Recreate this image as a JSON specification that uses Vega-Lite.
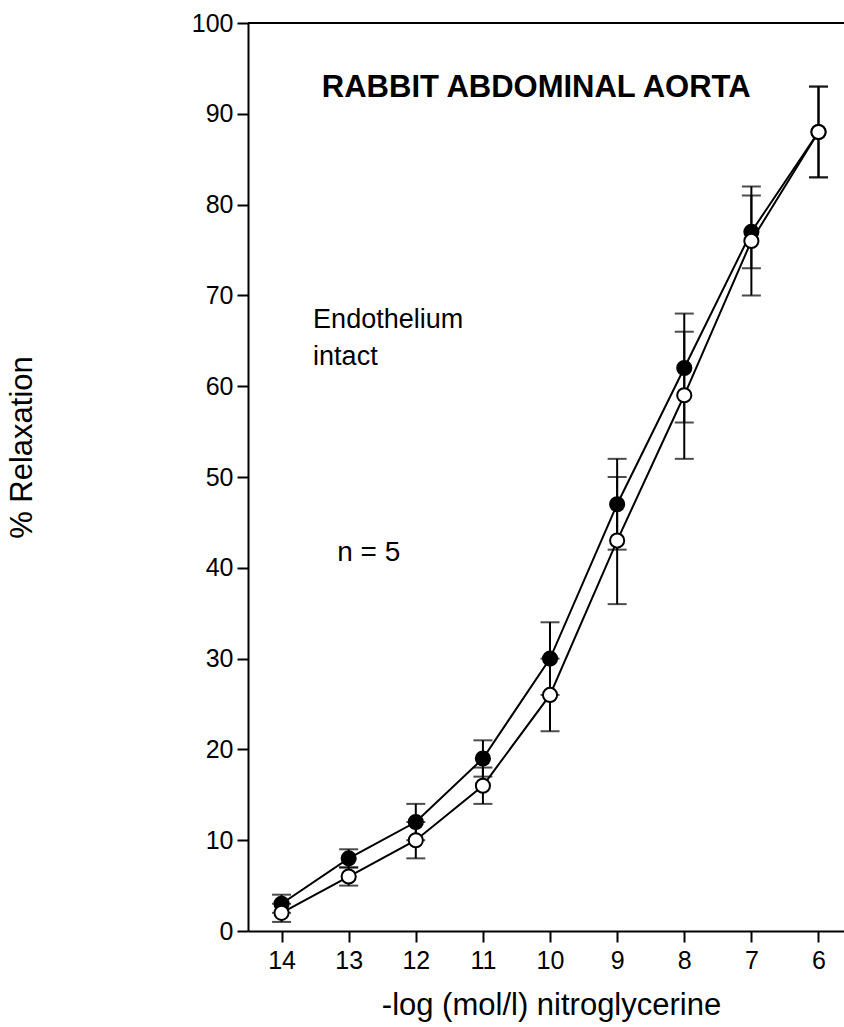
{
  "$schema": "https://vega.github.io/schema/vega-lite/v6.json",
  "autosize": "none",
  "width": 596,
  "height": 908,
  "padding": {"left": 248, "top": 23, "right": 0, "bottom": 96},
  "background": "white",
  "config": {
    "view": {"stroke": null},
    "font": "Liberation Sans",
    "axis": {
      "grid": false,
      "domainColor": "black",
      "domainWidth": 2,
      "tickColor": "black",
      "tickWidth": 2,
      "tickSize": 11,
      "labelColor": "black",
      "labelFont": "Liberation Sans",
      "labelFontSize": 25,
      "titleFont": "Liberation Sans",
      "titleFontSize": 31,
      "titleFontWeight": "normal",
      "titleColor": "black"
    }
  },
  "datasets": {
    "pts": [
      {"x": 14, "y": 3, "lo": 2, "hi": 4, "series": "filled"},
      {"x": 13, "y": 8, "lo": 7, "hi": 9, "series": "filled"},
      {"x": 12, "y": 12, "lo": 10, "hi": 14, "series": "filled"},
      {"x": 11, "y": 19, "lo": 17, "hi": 21, "series": "filled"},
      {"x": 10, "y": 30, "lo": 26, "hi": 34, "series": "filled"},
      {"x": 9, "y": 47, "lo": 42, "hi": 52, "series": "filled"},
      {"x": 8, "y": 62, "lo": 56, "hi": 68, "series": "filled"},
      {"x": 7, "y": 77, "lo": 73, "hi": 81, "series": "filled"},
      {"x": 6, "y": 88, "lo": 83, "hi": 93, "series": "filled"},
      {"x": 14, "y": 2, "lo": 1, "hi": 3, "series": "open"},
      {"x": 13, "y": 6, "lo": 5, "hi": 7, "series": "open"},
      {"x": 12, "y": 10, "lo": 8, "hi": 12, "series": "open"},
      {"x": 11, "y": 16, "lo": 14, "hi": 18, "series": "open"},
      {"x": 10, "y": 26, "lo": 22, "hi": 30, "series": "open"},
      {"x": 9, "y": 43, "lo": 36, "hi": 50, "series": "open"},
      {"x": 8, "y": 59, "lo": 52, "hi": 66, "series": "open"},
      {"x": 7, "y": 76, "lo": 70, "hi": 82, "series": "open"},
      {"x": 6, "y": 88, "lo": 83, "hi": 93, "series": "open"}
    ],
    "labels": [
      {"x": 13.4, "y": 91.85, "text": "RABBIT ABDOMINAL AORTA", "kind": "title"},
      {"x": 13.53, "y": 66.4, "text": "Endothelium", "kind": "note"},
      {"x": 13.53, "y": 62.3, "text": "intact", "kind": "note"},
      {"x": 13.17, "y": 40.7, "text": "n = 5", "kind": "n"}
    ]
  },
  "encoding": {
    "x": {
      "field": "x",
      "type": "quantitative",
      "scale": {"domain": [5.62, 14.5], "reverse": true, "nice": false, "zero": false},
      "axis": {
        "values": [6, 7, 8, 9, 10, 11, 12, 13, 14],
        "labelPadding": 6,
        "title": "-log (mol/l) nitroglycerine",
        "titleX": 303,
        "titleY": 74,
        "titleBaseline": "middle"
      }
    },
    "y": {
      "field": "y",
      "type": "quantitative",
      "scale": {"domain": [0, 100], "nice": false},
      "axis": {
        "values": [0, 10, 20, 30, 40, 50, 60, 70, 80, 90, 100],
        "labelPadding": 4,
        "title": "% Relaxation",
        "titleAngle": -90,
        "titleX": -226,
        "titleY": 424,
        "titleBaseline": "middle",
        "titleAlign": "center"
      }
    }
  },
  "layer": [
    {
      "data": {"values": [{"v": 100}]},
      "mark": {"type": "rule", "color": "black", "strokeWidth": 2},
      "encoding": {"x": null, "y": {"field": "v", "type": "quantitative"}}
    },
    {
      "data": {"name": "pts"},
      "mark": {"type": "rule", "color": "black", "strokeWidth": 2},
      "encoding": {"y": {"field": "lo", "type": "quantitative"}, "y2": {"field": "hi"}}
    },
    {
      "data": {"name": "pts"},
      "mark": {"type": "tick", "color": "black", "orient": "horizontal", "size": 19, "thickness": 2},
      "encoding": {"y": {"field": "lo", "type": "quantitative"}}
    },
    {
      "data": {"name": "pts"},
      "mark": {"type": "tick", "color": "black", "orient": "horizontal", "size": 19, "thickness": 2},
      "encoding": {"y": {"field": "hi", "type": "quantitative"}}
    },
    {
      "data": {"name": "pts"},
      "mark": {"type": "line", "color": "black", "strokeWidth": 2},
      "encoding": {"detail": {"field": "series"}, "order": {"field": "x", "type": "quantitative"}}
    },
    {
      "data": {"name": "pts"},
      "transform": [{"filter": "datum.series === 'filled'"}],
      "mark": {"type": "point", "shape": "circle", "filled": true, "fill": "black", "stroke": "black", "strokeWidth": 2, "size": 200, "opacity": 1}
    },
    {
      "data": {"name": "pts"},
      "transform": [{"filter": "datum.series === 'open'"}],
      "mark": {"type": "point", "shape": "circle", "filled": true, "fill": "white", "stroke": "black", "strokeWidth": 2, "size": 200, "opacity": 1}
    },
    {
      "data": {"name": "labels"},
      "transform": [{"filter": "datum.kind === 'title'"}],
      "mark": {"type": "text", "align": "left", "baseline": "alphabetic", "font": "Liberation Sans", "fontSize": 31, "fontWeight": "bold", "color": "black"},
      "encoding": {"text": {"field": "text"}}
    },
    {
      "data": {"name": "labels"},
      "transform": [{"filter": "datum.kind === 'note'"}],
      "mark": {"type": "text", "align": "left", "baseline": "alphabetic", "font": "Liberation Sans", "fontSize": 27, "color": "black"},
      "encoding": {"text": {"field": "text"}}
    },
    {
      "data": {"name": "labels"},
      "transform": [{"filter": "datum.kind === 'n'"}],
      "mark": {"type": "text", "align": "left", "baseline": "alphabetic", "font": "Liberation Sans", "fontSize": 28, "color": "black"},
      "encoding": {"text": {"field": "text"}}
    }
  ]
}
